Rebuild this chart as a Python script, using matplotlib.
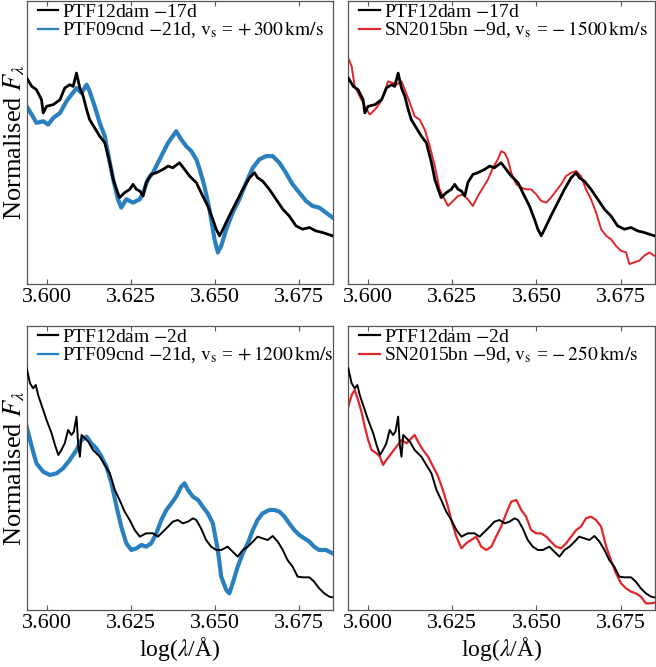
import matplotlib
matplotlib.use("Agg")
import matplotlib.pyplot as plt

plt.rcParams['font.family'] = ['Liberation Serif', 'DejaVu Serif']
plt.rcParams['mathtext.fontset'] = 'stix'

# ---------------- data (log wavelength, normalised flux, arbitrary units) ----------------
# PTF12dam -17d (top panels)
dam17_x = [3.5941, 3.5956, 3.5970, 3.5985, 3.5990, 3.6000, 3.6020, 3.6040, 3.6054, 3.6069,
           3.6079, 3.6089, 3.6099, 3.6109, 3.6119, 3.6128, 3.6143, 3.6158, 3.6173, 3.6188,
           3.6198, 3.6208, 3.6217, 3.6232, 3.6247, 3.6257, 3.6267, 3.6277, 3.6287, 3.6296,
           3.6311, 3.6326, 3.6346, 3.6361, 3.6375, 3.6395, 3.6410, 3.6425, 3.6445, 3.6464,
           3.6479, 3.6494, 3.6504, 3.6514, 3.6524, 3.6543, 3.6563, 3.6583, 3.6603, 3.6618,
           3.6627, 3.6642, 3.6662, 3.6682, 3.6702, 3.6721, 3.6741, 3.6761, 3.6781, 3.6800,
           3.6820, 3.6850]
dam17_y = [6.20, 5.95, 5.85, 5.55, 5.15, 5.35, 5.40, 5.55, 5.90, 6.00,
           5.95, 6.35, 5.90, 5.65, 5.25, 4.95, 4.70, 4.45, 4.25, 3.65,
           3.15, 2.85, 2.60, 2.75, 2.85, 3.00, 2.85, 2.80, 2.65, 3.05,
           3.30, 3.35, 3.45, 3.55, 3.50, 3.65, 3.45, 3.25, 3.05, 2.65,
           2.35, 1.95, 1.65, 1.45, 1.65, 2.05, 2.45, 2.85, 3.20, 3.35,
           3.20, 3.10, 2.85, 2.55, 2.25, 2.05, 1.75, 1.65, 1.70, 1.60,
           1.55, 1.45]

# PTF09cnd -21d, shifted +300 km/s (top left)
cnd300_x = [3.5941, 3.5956, 3.5970, 3.5990, 3.6005, 3.6020, 3.6040, 3.6059, 3.6074, 3.6089,
            3.6104, 3.6119, 3.6128, 3.6143, 3.6158, 3.6173, 3.6188, 3.6198, 3.6212, 3.6222,
            3.6237, 3.6257, 3.6277, 3.6287, 3.6301, 3.6316, 3.6331, 3.6346, 3.6361, 3.6375,
            3.6385, 3.6400, 3.6415, 3.6430, 3.6445, 3.6455, 3.6469, 3.6484, 3.6499, 3.6509,
            3.6519, 3.6534, 3.6553, 3.6573, 3.6593, 3.6613, 3.6632, 3.6652, 3.6672, 3.6692,
            3.6711, 3.6731, 3.6751, 3.6771, 3.6790, 3.6810, 3.6830, 3.6850]
cnd300_y = [5.35, 5.10, 4.85, 4.90, 4.80, 5.00, 5.15, 5.50, 5.70, 5.90,
            5.75, 6.00, 5.80, 5.35, 4.85, 4.45, 3.65, 3.15, 2.55, 2.30,
            2.55, 2.45, 2.55, 2.75, 3.15, 3.35, 3.65, 3.95, 4.25, 4.45,
            4.60, 4.35, 4.15, 4.00, 3.75, 3.45, 2.95, 2.25, 1.35, 0.95,
            1.15, 1.65, 2.15, 2.55, 3.05, 3.50, 3.75, 3.85, 3.85, 3.65,
            3.35, 3.00, 2.75, 2.50, 2.35, 2.30, 2.15, 2.00]

# SN2015bn -9d, shifted -1500 km/s (top right)
bn1500_x = [3.5941, 3.5951, 3.5960, 3.5975, 3.5990, 3.6005, 3.6020, 3.6035, 3.6049, 3.6059,
            3.6074, 3.6084, 3.6099, 3.6109, 3.6124, 3.6138, 3.6153, 3.6168, 3.6183, 3.6198,
            3.6212, 3.6227, 3.6237, 3.6252, 3.6267, 3.6282, 3.6296, 3.6311, 3.6326, 3.6341,
            3.6356, 3.6371, 3.6385, 3.6395, 3.6405, 3.6415, 3.6425, 3.6440, 3.6455, 3.6469,
            3.6484, 3.6499, 3.6514, 3.6529, 3.6543, 3.6558, 3.6573, 3.6588, 3.6603, 3.6618,
            3.6632, 3.6647, 3.6662, 3.6677, 3.6692, 3.6707, 3.6721, 3.6736, 3.6751, 3.6766,
            3.6776, 3.6790, 3.6805, 3.6820, 3.6835, 3.6850]
bn1500_y = [6.80, 6.55, 5.95, 5.65, 5.35, 5.10, 5.25, 5.45, 5.75, 6.10,
            6.05, 6.00, 6.10, 5.85, 5.45, 5.05, 4.95, 4.65, 4.15, 3.55,
            2.85, 2.55, 2.35, 2.50, 2.65, 2.70, 2.55, 2.35, 2.65, 2.90,
            3.15, 3.50, 3.75, 4.00, 3.95, 3.75, 3.35, 3.00, 2.90, 2.85,
            2.85, 2.70, 2.50, 2.45, 2.60, 2.80, 3.00, 3.25, 3.35, 3.40,
            3.25, 2.85, 2.55, 2.15, 1.65, 1.45, 1.35, 1.15, 1.00, 0.95,
            0.60, 0.65, 0.70, 0.85, 0.95, 0.85]

# PTF12dam -2d (bottom panels)
dam2_x = [3.5941, 3.5951, 3.5960, 3.5968, 3.5975, 3.5985, 3.6000, 3.6015, 3.6025, 3.6035,
          3.6044, 3.6054, 3.6064, 3.6074, 3.6081, 3.6089, 3.6094, 3.6099, 3.6104, 3.6114,
          3.6124, 3.6138, 3.6158, 3.6173, 3.6188, 3.6203, 3.6217, 3.6232, 3.6247, 3.6262,
          3.6277, 3.6296, 3.6316, 3.6331, 3.6346, 3.6361, 3.6375, 3.6390, 3.6405, 3.6420,
          3.6435, 3.6445, 3.6459, 3.6474, 3.6489, 3.6504, 3.6519, 3.6538, 3.6553, 3.6568,
          3.6583, 3.6598, 3.6613, 3.6627, 3.6642, 3.6657, 3.6672, 3.6687, 3.6702, 3.6716,
          3.6731, 3.6746, 3.6761, 3.6781, 3.6795, 3.6810, 3.6825, 3.6840, 3.6850]
dam2_y = [7.25, 6.80, 6.65, 6.75, 6.45, 6.15, 5.70, 5.30, 4.95, 4.65,
          4.80, 5.00, 5.40, 5.25, 5.35, 5.80, 4.95, 4.60, 5.25, 5.15,
          5.05, 4.80, 4.60, 4.35, 4.10, 3.60, 3.30, 2.95, 2.70, 2.40,
          2.20, 2.30, 2.30, 2.20, 2.35, 2.50, 2.65, 2.70, 2.60, 2.65,
          2.75, 2.70, 2.45, 2.10, 1.90, 1.80, 1.80, 1.90, 1.75, 1.60,
          1.80, 1.90, 2.05, 2.20, 2.15, 2.10, 2.22, 2.05, 1.80, 1.50,
          1.30, 1.00, 0.98, 0.98, 0.85, 0.65, 0.50, 0.40, 0.38]

# PTF09cnd -21d, shifted +1200 km/s (bottom left)
cnd1200_x = [3.5941, 3.5956, 3.5970, 3.5990, 3.6010, 3.6030, 3.6049, 3.6069, 3.6089, 3.6104,
             3.6119, 3.6133, 3.6148, 3.6163, 3.6178, 3.6193, 3.6208, 3.6222, 3.6237, 3.6252,
             3.6267, 3.6282, 3.6296, 3.6311, 3.6326, 3.6341, 3.6356, 3.6371, 3.6385, 3.6400,
             3.6410, 3.6420, 3.6435, 3.6450, 3.6464, 3.6479, 3.6494, 3.6509, 3.6519, 3.6534,
             3.6543, 3.6553, 3.6568, 3.6583, 3.6598, 3.6613, 3.6627, 3.6642, 3.6662, 3.6677,
             3.6692, 3.6707, 3.6721, 3.6736, 3.6751, 3.6766, 3.6781, 3.6795, 3.6810, 3.6830,
             3.6850]
cnd1200_y = [5.50, 4.90, 4.40, 4.15, 4.05, 4.10, 4.25, 4.50, 4.80, 5.10,
             5.20, 5.00, 4.85, 4.60, 4.30, 3.80, 3.10, 2.50, 2.00, 1.80,
             1.85, 1.95, 1.90, 2.00, 2.30, 2.70, 3.00, 3.20, 3.40, 3.70,
             3.80, 3.60, 3.40, 3.30, 3.10, 2.90, 2.60, 1.80, 1.00, 0.60,
             0.50, 0.80, 1.30, 1.70, 2.00, 2.40, 2.70, 2.90, 3.00, 3.00,
             2.95, 2.80, 2.60, 2.40, 2.25, 2.15, 2.05, 1.90, 1.80, 1.80,
             1.70]

# SN2015bn -9d, shifted -250 km/s (bottom right)
bn250_x = [3.5941, 3.5951, 3.5960, 3.5970, 3.5980, 3.5990, 3.6000, 3.6010, 3.6025, 3.6035,
           3.6044, 3.6054, 3.6069, 3.6084, 3.6099, 3.6114, 3.6128, 3.6138, 3.6148, 3.6163,
           3.6178, 3.6193, 3.6208, 3.6222, 3.6237, 3.6247, 3.6262, 3.6277, 3.6291, 3.6306,
           3.6321, 3.6336, 3.6351, 3.6366, 3.6380, 3.6395, 3.6410, 3.6425, 3.6440, 3.6455,
           3.6469, 3.6484, 3.6499, 3.6514, 3.6529, 3.6543, 3.6558, 3.6573, 3.6588, 3.6603,
           3.6618, 3.6632, 3.6647, 3.6662, 3.6677, 3.6692, 3.6707, 3.6721, 3.6736, 3.6751,
           3.6766, 3.6781, 3.6795, 3.6810, 3.6825, 3.6840, 3.6850]
bn250_y = [6.10, 6.45, 6.60, 6.30, 5.95, 5.50, 5.10, 4.80, 4.70, 4.60,
           4.35, 4.50, 4.70, 4.90, 5.10, 5.00, 5.15, 5.25, 5.05, 4.80,
           4.60, 4.30, 4.00, 3.60, 3.10, 2.70, 2.20, 1.85, 2.00, 2.10,
           2.20, 1.90, 1.80, 1.90, 2.20, 2.50, 2.90, 3.25, 3.30, 3.00,
           2.80, 2.40, 2.30, 2.30, 2.20, 2.05, 1.90, 1.85, 2.00, 2.20,
           2.40, 2.50, 2.75, 2.80, 2.70, 2.50, 1.90, 1.50, 1.10, 0.80,
           0.65, 0.55, 0.50, 0.40, 0.20, 0.20, 0.22]

labels = [
    (r"PTF12dam $-$17d", r"PTF09cnd $-$21d, $\mathrm{v_s}$ = $+\,300\,\mathrm{km/s}$"),
    (r"PTF12dam $-$17d", r"SN2015bn $-$9d, $\mathrm{v_s}$ = $-\,1500\,\mathrm{km/s}$"),
    (r"PTF12dam $-$2d", r"PTF09cnd $-$21d, $\mathrm{v_s}$ = $+\,1200\,\mathrm{km/s}$"),
    (r"PTF12dam $-$2d", r"SN2015bn $-$9d, $\mathrm{v_s}$ = $-\,250\,\mathrm{km/s}$"),
]
xticks = [3.600, 3.625, 3.650, 3.675]
xtick_labels = ["3.600", "3.625", "3.650", "3.675"]

BLUE = '#2a7fbf'
RED = '#e0262a'

fig = plt.figure(figsize=(6.56, 6.67), dpi=100)
W, H = 656, 667
def ax_at(x0, y0, x1, y1):
    return fig.add_axes([x0 / W, 1 - y1 / H, (x1 - x0) / W, (y1 - y0) / H])

axes = [ax_at(26.7, 1, 333.3, 284), ax_at(348.3, 1, 655, 284),
        ax_at(26.7, 326, 333.3, 610), ax_at(348.3, 326, 655, 610)]

panels = [
    (dam17_x, dam17_y, 2.0, cnd300_x, cnd300_y, BLUE, 3.0),
    (dam17_x, dam17_y, 2.0, bn1500_x, bn1500_y, RED, 1.4),
    (dam2_x, dam2_y, 1.4, cnd1200_x, cnd1200_y, BLUE, 3.0),
    (dam2_x, dam2_y, 1.4, bn250_x, bn250_y, RED, 1.6),
]

for i, (ax, p) in enumerate(zip(axes, panels)):
    bx, by, blw, cx, cy, col, clw = p
    l1, = ax.plot(bx, by, color='black', lw=blw, zorder=3, label=labels[i][0])
    l2, = ax.plot(cx, cy, color=col, lw=clw, zorder=2, label=labels[i][1])
    ax.set_xlim(3.5941, 3.6852)
    ax.set_ylim(0, 8.52)
    ax.set_yticks([])
    ax.set_xticks(xticks)
    ax.set_xticklabels(xtick_labels)
    ax.tick_params(axis='x', direction='in', top=True, length=3.5, width=0.8,
                   labelsize=16, pad=3, color='#555555')
    for s in ax.spines.values():
        s.set_color('#555555')
        s.set_linewidth(0.9)
    leg = ax.legend(handles=[l1, l2], loc='upper left', bbox_to_anchor=(0.03, 1.0),
                    frameon=False, fontsize=14, handlelength=1.05, handletextpad=0.2,
                    labelspacing=-0.05, borderaxespad=0.0, borderpad=0.1)
    for ln in leg.get_lines():
        ln.set_linewidth(1.6)
    if i % 2 == 0:
        ax.set_ylabel(r"Normalised $F_\lambda$", fontsize=19, labelpad=0)
    if i >= 2:
        ax.set_xlabel(r"log($\lambda$/Å)", fontsize=17, labelpad=1)

fig.savefig("out.png", dpi=100)
